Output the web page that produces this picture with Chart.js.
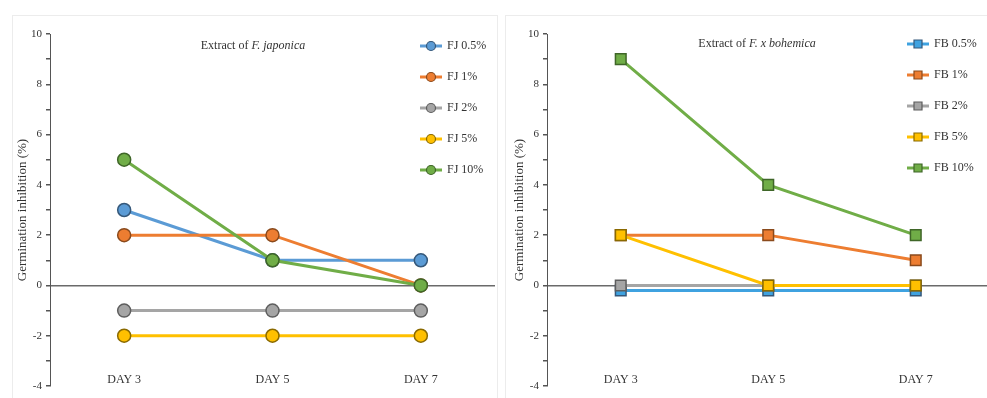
<!DOCTYPE html>
<html>
<head>
<meta charset="utf-8">
<script src="https://cdn.jsdelivr.net/npm/chart.js@4/dist/chart.umd.min.js"></script>
<style>
  html, body { margin: 0; padding: 0; background: #fff; overflow: hidden; }
  #wrap { position: relative; width: 987px; height: 398px; overflow: hidden; }
  .frame { position: absolute; border: 1px solid #ececec; }
  .box { position: absolute; top: 0; height: 398px; }
</style>
</head>
<body>
<div id="wrap">
  <div class="frame" style="left:12px; top:15px; width:484px; height:390px;"></div>
  <div class="frame" style="left:505px; top:15px; width:490px; height:390px;"></div>
  <div class="box" style="left:0; width:497px;"><canvas id="chartFJ"></canvas></div>
  <div class="box" style="left:497px; width:494px;"><canvas id="chartFB"></canvas></div>
</div>
<script>
const days = ['DAY 3', 'DAY 5', 'DAY 7'];

// Extract of F. japonica
const fjLabels = ['FJ 0.5%', 'FJ 1%', 'FJ 2%', 'FJ 5%', 'FJ 10%'];
const fj05 = [3, 1, 1];
const fj1 = [2, 2, 0];
const fj2 = [-1, -1, -1];
const fj5 = [-2, -2, -2];
const fj10 = [5, 1, 0];

// Extract of F. x bohemica
const fbLabels = ['FB 0.5%', 'FB 1%', 'FB 2%', 'FB 5%', 'FB 10%'];
const fb05 = [-0.2, -0.2, -0.2];
const fb1 = [2, 2, 1];
const fb2 = [0, 0, 0];
const fb5 = [2, 0, 0];
const fb10 = [9, 4, 2];

const yTicks = [-4, -2, 0, 2, 4, 6, 8, 10];

const SERIF = "'Liberation Serif', 'Times New Roman', serif";
const lineColors = ['#5B9BD5', '#ED7D31', '#A5A5A5', '#FFC000', '#70AD47'];
const edgeColors = ['#35587a', '#8a4a1c', '#5e5e5e', '#8a6a00', '#3f6628'];

function makeDatasets(labels, series, pointStyle, radius, colors) {
  return series.map((data, i) => ({
    label: labels[i],
    data: data,
    borderColor: colors[i],
    backgroundColor: colors[i],
    borderWidth: 3,
    pointStyle: pointStyle,
    pointRadius: radius,
    pointBackgroundColor: colors[i],
    pointBorderColor: edgeColors[i],
    pointBorderWidth: 1.5,
    order: series.length - i,
    tension: 0,
  }));
}

// title with italic species name, drawn inside the plot
const titlePlugin = {
  id: 'panelTitle',
  afterDraw(chart, args, opts) {
    const ctx = chart.ctx;
    ctx.save();
    ctx.fillStyle = '#333';
    ctx.textBaseline = 'middle';
    const plain = '12px ' + SERIF;
    const ital = 'italic 12px ' + SERIF;
    ctx.font = plain;
    const w1 = ctx.measureText(opts.prefix).width;
    ctx.font = ital;
    const w2 = ctx.measureText(opts.species).width;
    let x = opts.x - (w1 + w2) / 2;
    ctx.font = plain;
    ctx.fillText(opts.prefix, x, opts.y);
    ctx.font = ital;
    ctx.fillText(opts.species, x + w1, opts.y);
    ctx.restore();
  }
};

// Excel-like legend sitting inside the plot on the right
const legendPlugin = {
  id: 'sideLegend',
  afterDraw(chart, args, opts) {
    const ctx = chart.ctx;
    ctx.save();
    chart.data.datasets.forEach((ds, i) => {
      const y = opts.y + i * opts.step;
      ctx.strokeStyle = ds.borderColor;
      ctx.lineWidth = 3;
      ctx.beginPath();
      ctx.moveTo(opts.x, y);
      ctx.lineTo(opts.x + 22, y);
      ctx.stroke();
      ctx.fillStyle = ds.pointBackgroundColor;
      ctx.strokeStyle = ds.pointBorderColor;
      ctx.lineWidth = 1.2;
      ctx.beginPath();
      if (ds.pointStyle === 'rect') {
        ctx.rect(opts.x + 11 - 4, y - 4, 8, 8);
      } else {
        ctx.arc(opts.x + 11, y, 4.5, 0, Math.PI * 2);
      }
      ctx.fill();
      ctx.stroke();
      ctx.fillStyle = '#333';
      ctx.font = '12px ' + SERIF;
      ctx.textBaseline = 'middle';
      ctx.fillText(ds.label, opts.x + 27, y);
    });
    ctx.restore();
  }
};

function makeOptions(padRight, title, legend) {
  return {
    responsive: false,
    animation: false,
    layout: { autoPadding: false, padding: { left: 0, right: padRight, top: 34, bottom: 0 } },
    plugins: {
      legend: { display: false },
      tooltip: { enabled: false },
      panelTitle: title,
      sideLegend: legend,
    },
    scales: {
      x: {
        offset: true,
        grid: { display: false, drawTicks: false },
        border: { display: false },
        // mirrored labels sit just above the bottom of the plot, like Excel's "low" labels
        ticks: { color: '#333', font: { family: SERIF, size: 12 }, mirror: true, padding: -1 },
        afterFit(scale) {
          scale.height = 12;
          scale.paddingLeft = 0;
          scale.paddingRight = 0;
        },
      },
      y: {
        min: -4,
        max: 10,
        afterBuildTicks(scale) {
          const t = [];
          for (let v = -4; v <= 10; v++) t.push({ value: v });
          scale.ticks = t;
        },
        ticks: {
          color: '#333',
          font: { family: SERIF, size: 11 },
          padding: 4,
          callback: v => (yTicks.includes(v) ? v : ''),
        },
        grid: {
          color: c => (c.tick && c.tick.value === 0 ? '#6a6a6a' : 'rgba(0,0,0,0)'),
          lineWidth: 1.5,
          tickColor: '#555',
          tickLength: 4,
        },
        border: { display: true, color: '#555', width: 1 },
        title: {
          display: true,
          text: 'Germination inhibition (%)',
          color: '#333',
          font: { family: SERIF, size: 13 },
          padding: { top: 15, bottom: 0 },
        },
        afterFit(scale) {
          scale.width = 50;
          scale.paddingTop = 0;
          scale.paddingBottom = 0;
        },
      },
    },
  };
}

const cFJ = document.getElementById('chartFJ');
cFJ.width = 497; cFJ.height = 398;
new Chart(cFJ, {
  type: 'line',
  data: {
    labels: days,
    datasets: makeDatasets(fjLabels, [fj05, fj1, fj2, fj5, fj10], 'circle', 6.5, lineColors),
  },
  options: makeOptions(2,
    { prefix: 'Extract of ', species: 'F. japonica', x: 253, y: 46 },
    { x: 420, y: 46, step: 31 }),
  plugins: [titlePlugin, legendPlugin],
});

const fbColors = ['#3FA2E0', '#ED7D31', '#A5A5A5', '#FFC000', '#70AD47'];
const cFB = document.getElementById('chartFB');
cFB.width = 494; cFB.height = 398;
new Chart(cFB, {
  type: 'line',
  data: {
    labels: days,
    datasets: makeDatasets(fbLabels, [fb05, fb1, fb2, fb5, fb10], 'rect', 7.5, fbColors),
  },
  options: makeOptions(1.5,
    { prefix: 'Extract of ', species: 'F. x bohemica', x: 260, y: 44 },
    { x: 410, y: 44, step: 31 }),
  plugins: [titlePlugin, legendPlugin],
});
</script>
</body>
</html>
